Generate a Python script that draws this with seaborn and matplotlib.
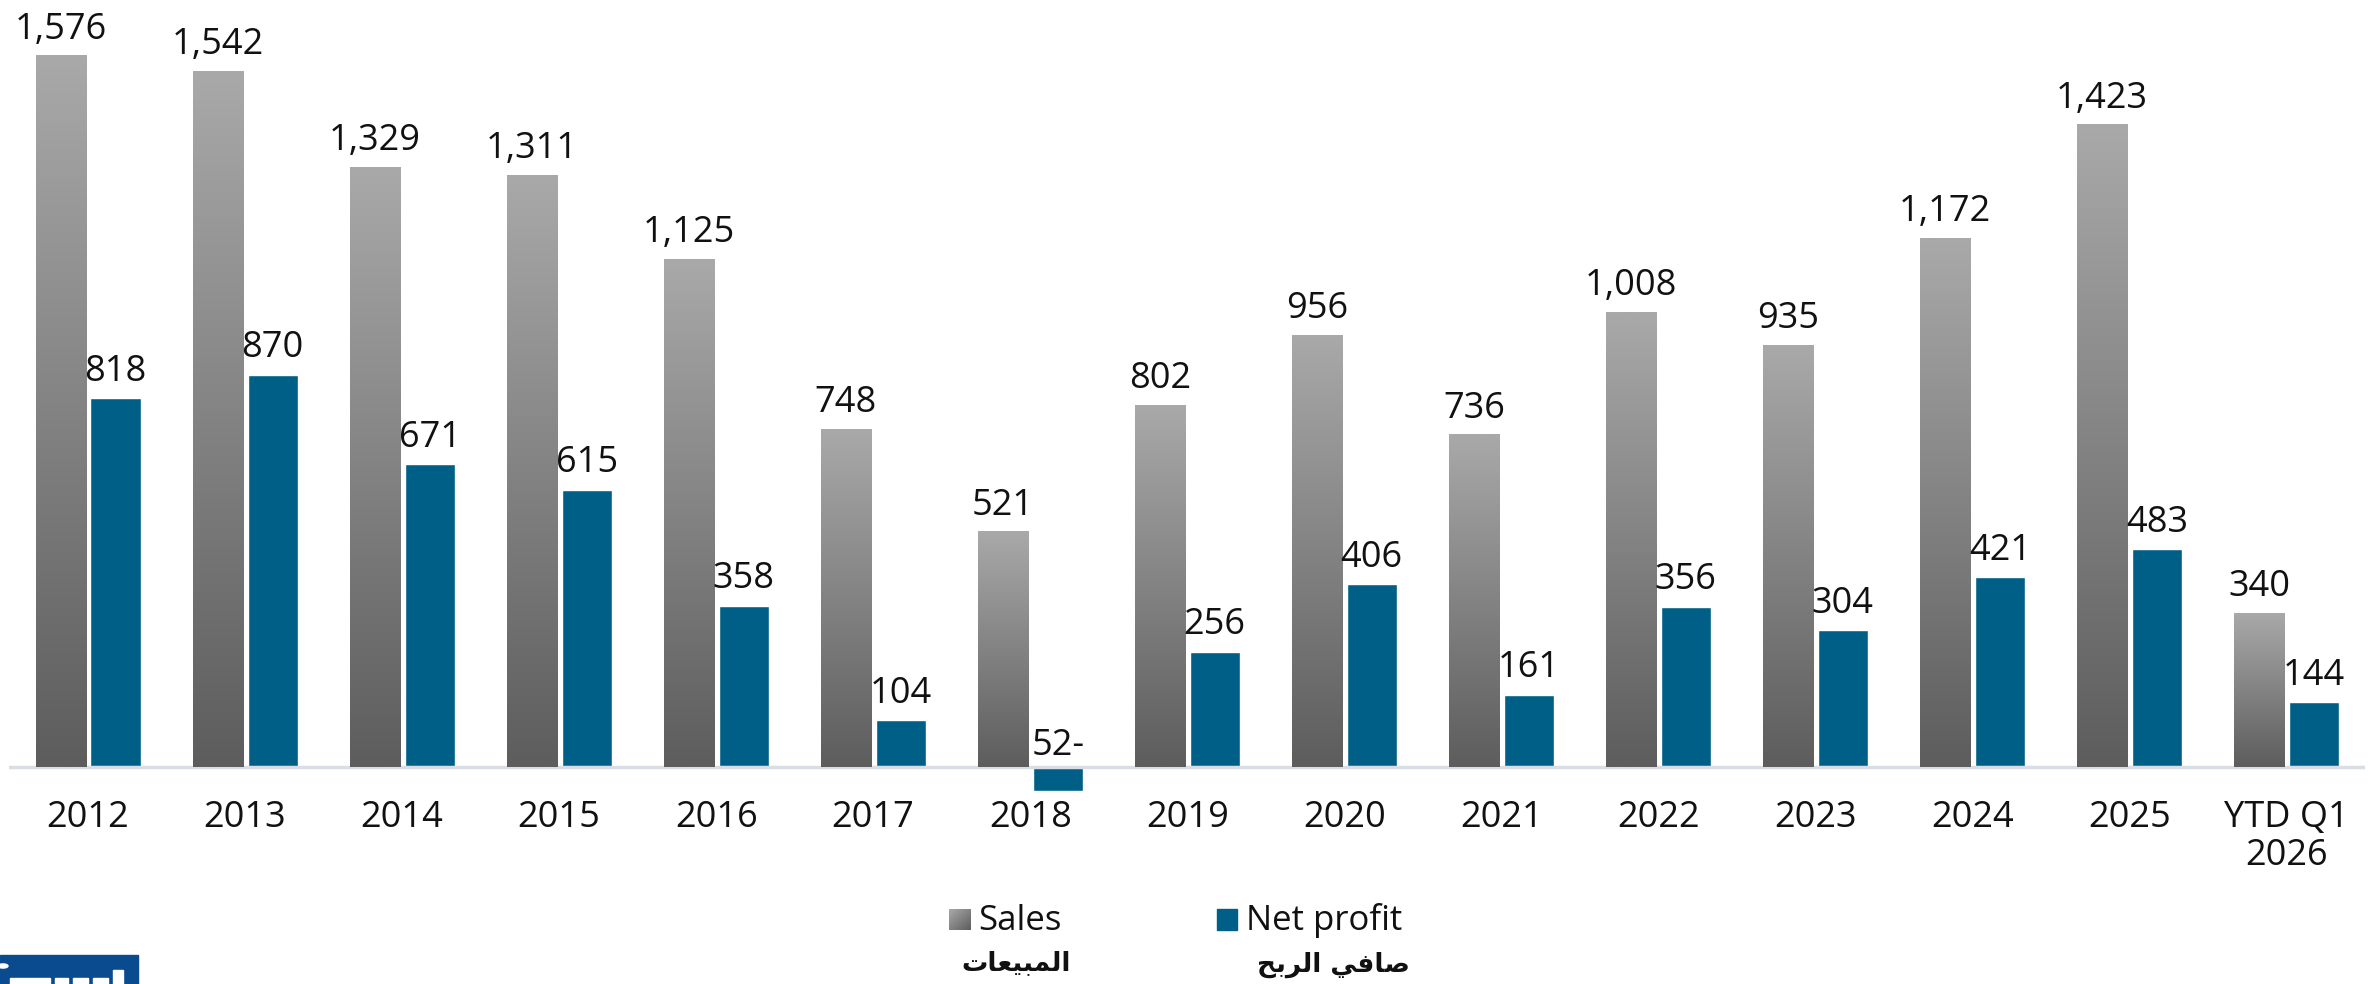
import numpy as np
import pandas as pd
import matplotlib
matplotlib.use("Agg")
import matplotlib.pyplot as plt
from matplotlib.colors import LinearSegmentedColormap
from matplotlib.patches import Rectangle, Circle
import seaborn as sns

years = ["2012", "2013", "2014", "2015", "2016", "2017", "2018", "2019",
         "2020", "2021", "2022", "2023", "2024", "2025", "YTD Q1\n2026"]
sales = [1576, 1542, 1329, 1311, 1125, 748, 521, 802, 956, 736, 1008, 935, 1172, 1423, 340]
net_profit = [818, 870, 671, 615, 358, 104, -52, 256, 406, 161, 356, 304, 421, 483, 144]

# Arabic labels written in shaped presentation forms, visual order
sales_ar = "\uFE95\uFE8E\uFECC\uFEF4\uFE92\uFEE4\uFEDF\uFE8D"
profit_ar = "\uFEA2\uFE91\uFEAE\uFEDF\uFE8D \uFEF2\uFED3\uFE8E\uFEBB"

df = pd.DataFrame({
    "year": years * 2,
    "value": sales + net_profit,
    "series": ["Sales"] * len(years) + ["Net profit"] * len(years),
})

sns.set_style("white")
plt.rcParams["font.family"] = ["Open Sans", "DejaVu Sans"]

W, H = 2374, 984
fig = plt.figure(figsize=(W / 100, H / 100), dpi=100)
ax = fig.add_axes([9.5 / W, (H - 792) / H, 2355.5 / W, 792 / H])

blue = "#005f86"
sns.barplot(data=df, x="year", y="value", hue="series", order=years,
            palette={"Sales": "#8c8c8c", "Net profit": blue},
            width=0.7, gap=0.09, legend=False, ax=ax, saturation=1)

grad_cmap = LinearSegmentedColormap.from_list("gr", ["#5d5d5d", "#a9a9a9"])
grad = np.linspace(0, 1, 256).reshape(-1, 1)

for bar in ax.containers[0]:
    x0, y0 = bar.get_x(), bar.get_y()
    w, h = bar.get_width(), bar.get_height()
    ax.imshow(grad, extent=[x0, x0 + w, y0, y0 + h], origin="lower",
              aspect="auto", cmap=grad_cmap, zorder=2)
    bar.set_alpha(0)

ax.set_xlim(-0.5, len(years) - 0.5)
ax.set_ylim(-55, 1700)
ax.axhline(0, color="#d9dee4", lw=2.5, zorder=1)

for cont, vals in zip(ax.containers, [sales, net_profit]):
    for bar, v in zip(cont, vals):
        cx = bar.get_x() + bar.get_width() / 2
        txt = f"{v:,}" if v >= 0 else f"{abs(v)}-"
        ax.annotate(txt, (cx, max(v, 0)), xytext=(0, 6 if v >= 0 else 2),
                    textcoords="offset points", ha="center", va="bottom",
                    fontsize=26, color="#111111", zorder=4)

ax.set_xlabel("")
ax.set_ylabel("")
ax.set_yticks([])
ax.tick_params(axis="x", length=0, pad=6, labelsize=26, colors="#111111")
for lbl in ax.get_xticklabels():
    lbl.set_linespacing(1.05)
for s in ax.spines.values():
    s.set_visible(False)

# legend drawn by hand
def px(x, y):
    return x / W, 1 - y / H

lax = fig.add_axes([949 / W, 1 - 930 / H, 21 / W, 21 / H])
diag = np.add.outer(np.linspace(1, 0, 50), np.linspace(1, 0, 50)) / 2
lax.imshow(diag, cmap=grad_cmap, aspect="auto", origin="upper")
lax.axis("off")
fig.patches.append(Rectangle(px(1217, 930), 20 / W, 21 / H, transform=fig.transFigure, color=blue))

fig.text(*px(978, 930), "Sales", fontsize=25, color="#111111", va="baseline", ha="left")
fig.text(*px(1246, 930), "Net profit", fontsize=25, color="#111111", va="baseline", ha="left")
fig.text(*px(1016, 963), sales_ar, fontsize=19, fontweight="bold", family="DejaVu Sans",
         ha="center", va="center", color="#111111")
fig.text(*px(1333, 965), profit_ar, fontsize=19, fontweight="bold", family="DejaVu Sans",
         ha="center", va="center", color="#111111")

# cropped logo at bottom left
logo_blue = "#0a4a8e"
fig.patches.append(Rectangle(px(0, 984), 138 / W, 29 / H, transform=fig.transFigure, color=logo_blue))
fig.patches.append(Circle(px(3, 966), 5 / W, transform=fig.transFigure, color="white"))
for a, b in [(10, 50), (55, 68), (73, 88), (93, 108)]:
    fig.patches.append(Rectangle(px(a, 984), (b - a) / W, 6 / H, transform=fig.transFigure, color="white"))
fig.patches.append(Rectangle(px(113, 984), 10 / W, 14 / H, transform=fig.transFigure, color="white"))

fig.savefig("out.png", dpi=100)
